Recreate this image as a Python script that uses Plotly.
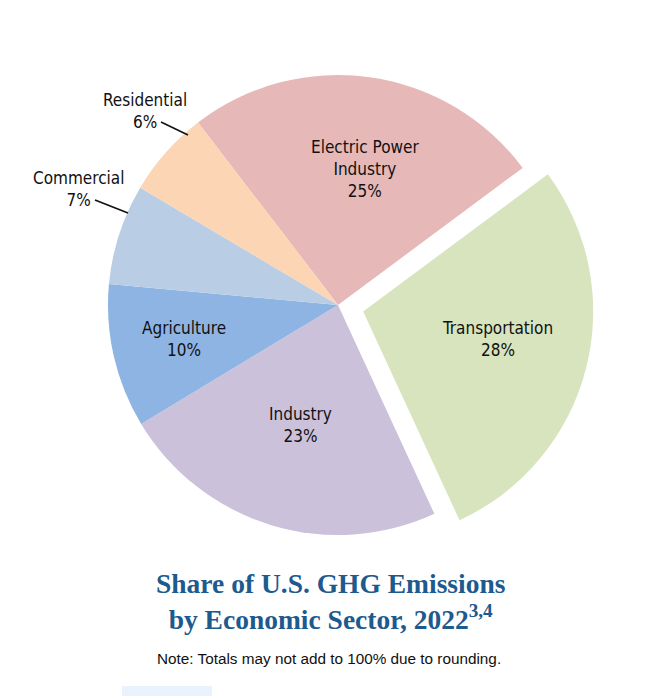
import plotly.graph_objects as go

sectors = ["Electric Power<br>Industry", "Transportation", "Industry", "Agriculture", "Commercial", "Residential"]
shares = [25, 28, 23, 10, 7, 6]
colors = ["#E6B9B8", "#D7E4BD", "#CCC1DA", "#8EB4E3", "#B9CDE5", "#FCD5B5"]
pulls = [0, 0.113, 0, 0, 0, 0]

# label centres (reference pixels) and optional leader line (start, end)
label_pos = [(365, 169), (497, 339), (300, 425), (184, 339), (78, 189), (145, 111)]
leaders = [None, None, None, None, (95, 200, 128, 213), (161, 122, 188, 135)]

OFF = 8  # browser default body margin
W, H = 654 - OFF, 696 - OFF


def px(x):
    return (x - OFF) / W


def py(y):
    return 1 - (y - OFF) / H


label_font = dict(family="DejaVu Sans Condensed, Liberation Sans Narrow, Arial Narrow, sans-serif",
                  size=17, color="#111111")

fig = go.Figure(go.Pie(
    labels=sectors,
    values=shares,
    textinfo="none",
    marker=dict(colors=colors, line=dict(width=0)),
    pull=pulls,
    sort=False,
    direction="clockwise",
    rotation=-37.5,
    domain=dict(x=[px(82), px(594)], y=[py(561), py(49)]),
    showlegend=False,
    hoverinfo="label+percent",
))

for s, v, (cx, cy), ld in zip(sectors, shares, label_pos, leaders):
    fig.add_annotation(x=px(cx), y=py(cy), xref="paper", yref="paper",
                       text=f"{s}<br>{v}%", showarrow=False, font=label_font,
                       align="center", xanchor="center", yanchor="middle")
    if ld:
        x0, y0, x1, y1 = ld
        fig.add_shape(type="line", xref="paper", yref="paper",
                      x0=px(x0), y0=py(y0), x1=px(x1), y1=py(y1),
                      line=dict(color="#111111", width=1.6))

title_font = dict(family="Liberation Serif, DejaVu Serif, serif", size=27.5, color="#1D5A8E")
fig.add_annotation(x=px(331), y=py(601), xref="paper", yref="paper",
                   text="<b>Share of U.S. GHG Emissions<br>by Economic Sector, 2022<sup>3,4</sup></b>",
                   showarrow=False, font=title_font, align="center",
                   xanchor="center", yanchor="middle")
fig.add_annotation(x=px(329), y=py(658), xref="paper", yref="paper",
                   text="Note: Totals may not add to 100% due to rounding.", showarrow=False,
                   font=dict(family="Liberation Sans, Arial, sans-serif", size=15.3, color="#111111"),
                   xanchor="center", yanchor="middle")

fig.add_shape(type="rect", xref="paper", yref="paper", x0=px(122), x1=px(212), y0=py(704), y1=py(686),
              fillcolor="#EAF3FD", line=dict(width=0), layer="below")

fig.update_layout(width=W, height=H, margin=dict(l=0, r=0, t=0, b=0),
                  paper_bgcolor="white", plot_bgcolor="white")

fig.write_html("out.html")
